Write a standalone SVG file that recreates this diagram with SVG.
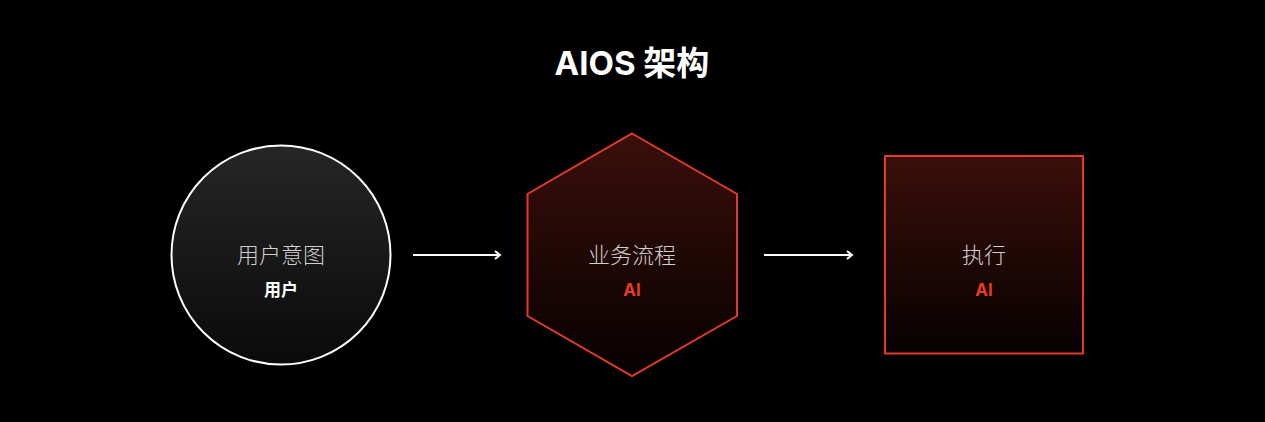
<svg xmlns="http://www.w3.org/2000/svg" width="1265" height="422" viewBox="0 0 1265 422">
<defs>
<linearGradient id="gGray" x1="0" y1="0" x2="0" y2="1">
<stop offset="0" stop-color="#262626"/>
<stop offset="1" stop-color="#0a0a0a"/>
</linearGradient>
<linearGradient id="gRed" x1="0" y1="0" x2="0" y2="1">
<stop offset="0" stop-color="#3a0f0a"/>
<stop offset="1" stop-color="#060101"/>
</linearGradient>
<marker id="arr" markerWidth="10" markerHeight="10" refX="7" refY="5" orient="auto" markerUnits="userSpaceOnUse">
<path d="M2,1 L7,5 L2,9" fill="none" stroke="#ffffff" stroke-width="2"/>
</marker>
</defs>
<style>
.title{font-family:Inter,"Noto Sans CJK SC",sans-serif;font-size:33px;font-weight:700;fill:#ffffff}
.main{font-family:"Noto Sans CJK SC",sans-serif;font-size:22px;font-weight:300;fill:#d0d0d0}
.sub{font-family:Inter,"Noto Sans CJK SC",sans-serif;font-size:17px;font-weight:700}
.conn{stroke:#ffffff;stroke-width:2;fill:none}
</style>
<rect width="1265" height="422" fill="#000000"/>
<text class="title" x="632" y="75" text-anchor="middle">AIOS 架构</text>
<g id="node-user">
<circle cx="281" cy="255" r="109.5" fill="url(#gGray)" stroke="#ffffff" stroke-width="2"/>
<text class="main" x="281" y="263" text-anchor="middle">用户意图</text>
<text class="sub" x="281" y="296" text-anchor="middle" fill="#ffffff">用户</text>
</g>
<g id="node-process">
<polygon points="632,133.5 737,194 737,316 632,376 527.5,316 527.5,194" fill="url(#gRed)" stroke="#e33b26" stroke-width="2"/>
<text class="main" x="632" y="263" text-anchor="middle">业务流程</text>
<text class="sub" x="632" y="296" text-anchor="middle" fill="#e33b26">AI</text>
</g>
<g id="node-exec">
<rect x="885" y="156" width="198" height="197.5" fill="url(#gRed)" stroke="#e33b26" stroke-width="2"/>
<text class="main" x="984" y="263" text-anchor="middle">执行</text>
<text class="sub" x="984" y="296" text-anchor="middle" fill="#e33b26">AI</text>
</g>
<g id="connectors">
<line class="conn" x1="413" y1="255" x2="500" y2="255" marker-end="url(#arr)"/>
<line class="conn" x1="764" y1="255" x2="852" y2="255" marker-end="url(#arr)"/>
</g>
</svg>
